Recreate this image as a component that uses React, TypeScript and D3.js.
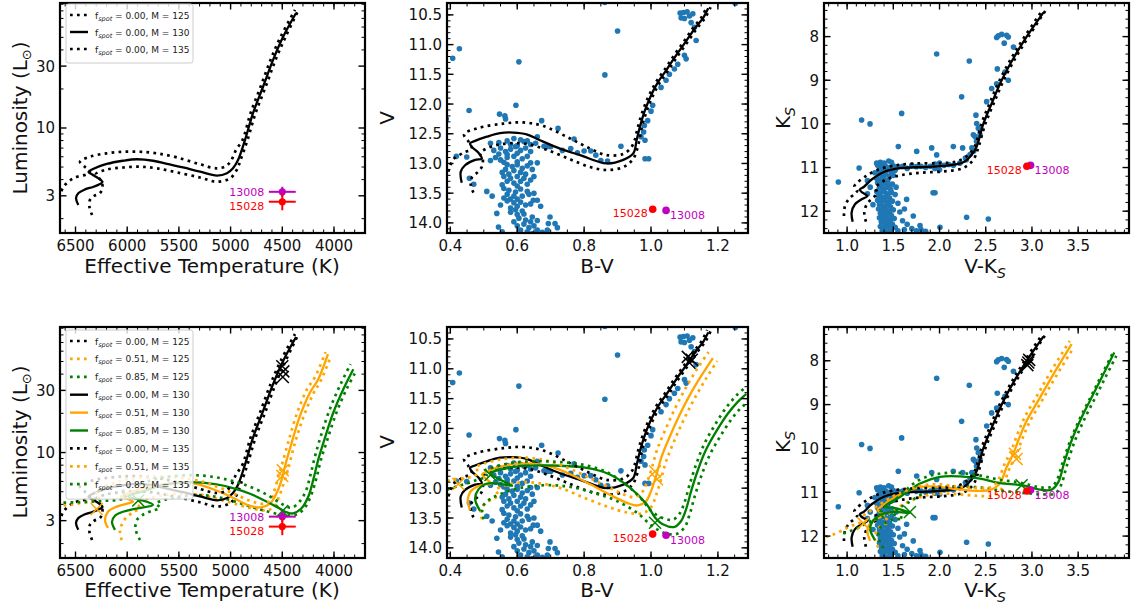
import React from 'react';
import * as d3 from 'd3';

type P = [number, number];

// ================= HR diagram tracks (Teff [K], L [Lsun]) =================
const hr000_125: P[] = [[6340,2.13],[6365,2.46],[6360,2.79],[6321,2.99],[6263,3.15],[6239,3.51],[6249,3.87],[6282,4.19],[6302,4.42],[6198,4.78],[6041,4.96],[5876,5.03],[5715,4.89],[5521,4.55],[5296,4.15],[5134,3.85],[5006,4.09],[4941,4.74],[4904,5.66],[4837,8.07],[4759,13.0],[4662,20.7],[4566,33.4],[4469,50.3],[4348,79.8]];
const hr000_130: P[] = [[6473,2.55],[6495,2.88],[6471,3.15],[6408,3.36],[6331,3.51],[6273,3.67],[6239,3.83],[6282,4.11],[6331,4.34],[6374,4.58],[6331,4.83],[6198,5.28],[6041,5.59],[5908,5.74],[5750,5.59],[5615,5.28],[5460,4.96],[5296,4.60],[5131,4.30],[5035,4.48],[4977,4.89],[4928,5.66],[4861,8.07],[4783,13.0],[4687,20.7],[4590,33.4],[4493,50.3],[4367,77.1]];
const hr000_135: P[] = [[6660,2.90],[6640,3.21],[6611,3.57],[6524,4.09],[6392,4.40],[6360,4.60],[6408,5.00],[6457,5.50],[6360,6.01],[6198,6.38],[6038,6.56],[5876,6.56],[5715,6.38],[5521,5.94],[5296,5.25],[5134,4.89],[5044,5.09],[4996,5.59],[4948,6.76],[4885,8.07],[4807,13.0],[4711,20.7],[4614,33.4],[4517,50.3],[4377,81.3]];
const hr051_125: P[] = [[6053,2.13],[6070,2.46],[6050,2.83],[6002,3.21],[5934,3.51],[5876,3.77],[5905,4.05],[5828,4.34],[5682,4.66],[5489,4.83],[5296,4.74],[5131,4.42],[4977,4.08],[4812,3.75],[4651,3.60],[4580,3.83],[4532,4.58],[4484,5.87],[4445,7.40],[4382,11.5],[4300,18.3],[4203,28.0],[4126,35.9],[4029,54.9]];
const hr051_130: P[] = [[6186,2.64],[6215,3.04],[6186,3.51],[6108,3.83],[6002,4.05],[5944,4.19],[6002,4.42],[6060,4.58],[5973,4.91],[5828,5.37],[5682,5.66],[5537,5.87],[5344,5.77],[5131,5.09],[4977,4.50],[4812,3.90],[4706,3.80],[4619,4.05],[4554,4.89],[4506,6.19],[4474,7.84],[4409,11.9],[4329,19.1],[4232,28.9],[4152,36.6],[4058,57.0]];
const hr051_135: P[] = [[6750,3.85],[6650,3.90],[6553,3.97],[6437,4.11],[6321,4.26],[6263,4.58],[6302,5.00],[6263,5.37],[6118,5.87],[5973,6.30],[5780,6.53],[5538,6.47],[5296,6.03],[5131,5.47],[4977,4.87],[4812,4.26],[4677,4.05],[4609,4.34],[4571,5.27],[4532,6.76],[4498,8.37],[4435,12.6],[4358,20.0],[4261,30.6],[4179,38.6],[4082,59.0]];
const hr085_125: P[] = [[5876,2.13],[5920,2.59],[5905,3.04],[5847,3.33],[5760,3.57],[5682,3.77],[5721,4.05],[5634,4.34],[5441,4.66],[5248,4.70],[5054,4.42],[4861,3.97],[4667,3.57],[4474,3.30],[4368,3.33],[4290,3.70],[4227,4.58],[4174,6.19],[4126,8.83],[4058,13.0],[3976,20.3],[3879,30.6],[3787,42.1]];
const hr085_130: P[] = [[6118,2.55],[6147,2.94],[6118,3.27],[6041,3.51],[5925,3.70],[5751,3.97],[5876,4.34],[5992,4.62],[5828,5.09],[5634,5.66],[5364,5.92],[5151,5.71],[4977,5.34],[4812,4.83],[4648,4.19],[4522,3.70],[4454,3.47],[4396,3.41],[4312,3.75],[4248,4.60],[4200,6.19],[4152,8.83],[4087,13.0],[4007,20.2],[3910,30.6],[3813,43.6]];
const hr085_135: P[] = [[6750,4.05],[6650,4.11],[6505,4.15],[6360,4.19],[6215,4.26],[6089,4.34],[6012,4.50],[6050,4.91],[5992,5.37],[5828,5.92],[5634,6.47],[5364,6.70],[5151,6.47],[4977,6.03],[4812,5.47],[4648,4.74],[4522,4.11],[4454,3.83],[4406,3.77],[4334,4.19],[4271,5.09],[4227,6.76],[4179,9.66],[4116,14.3],[4034,22.2],[3937,33.4],[3840,47.7]];

// ================= V vs B-V tracks =================
const bv000_125: P[] = [[0.469,13.49],[0.461,13.36],[0.465,13.23],[0.481,13.15],[0.494,13.06],[0.497,12.93],[0.489,12.83],[0.504,12.76],[0.539,12.69],[0.578,12.66],[0.628,12.67],[0.688,12.77],[0.758,12.93],[0.818,13.06],[0.867,13.11],[0.917,13.06],[0.947,12.92],[0.963,12.66],[0.973,12.38],[0.987,12.12],[1.004,11.88],[1.026,11.64],[1.053,11.42],[1.081,11.18],[1.110,10.95],[1.138,10.72],[1.163,10.54],[1.178,10.37]];
const bv000_130: P[] = [[0.434,13.325],[0.431,13.14],[0.444,13.03],[0.474,12.94],[0.494,12.92],[0.484,12.82],[0.464,12.72],[0.459,12.66],[0.474,12.62],[0.509,12.55],[0.548,12.49],[0.588,12.48],[0.628,12.51],[0.668,12.61],[0.728,12.75],[0.788,12.86],[0.867,13.0],[0.917,12.94],[0.947,12.83],[0.957,12.61],[0.967,12.38],[0.981,12.12],[0.998,11.88],[1.020,11.64],[1.047,11.42],[1.075,11.18],[1.104,10.95],[1.132,10.72],[1.157,10.54],[1.171,10.39]];
const bv000_135: P[] = [[0.394,13.14],[0.409,12.93],[0.439,12.82],[0.464,12.75],[0.454,12.63],[0.441,12.51],[0.479,12.41],[0.558,12.33],[0.618,12.31],[0.678,12.37],[0.758,12.58],[0.818,12.75],[0.867,12.86],[0.917,12.84],[0.942,12.72],[0.951,12.61],[0.961,12.38],[0.975,12.12],[0.992,11.88],[1.014,11.64],[1.041,11.42],[1.069,11.18],[1.098,10.95],[1.126,10.72],[1.151,10.54],[1.168,10.35]];
const bv051_125: P[] = [[0.495,13.52],[0.49,13.40],[0.50,13.28],[0.52,13.20],[0.545,13.12],[0.535,13.04],[0.55,12.98],[0.58,12.93],[0.62,12.90],[0.67,12.92],[0.73,13.0],[0.80,13.16],[0.87,13.31],[0.93,13.41],[0.975,13.42],[1.0,13.32],[1.015,13.12],[1.03,12.85],[1.045,12.55],[1.07,12.20],[1.10,11.83],[1.13,11.50],[1.165,11.16],[1.198,10.87]];
const bv051_130: P[] = [[0.459,13.37],[0.452,13.20],[0.46,13.06],[0.478,12.98],[0.50,12.94],[0.522,12.92],[0.508,12.85],[0.495,12.77],[0.515,12.71],[0.55,12.64],[0.60,12.59],[0.65,12.59],[0.70,12.64],[0.76,12.77],[0.82,12.94],[0.88,13.12],[0.93,13.25],[0.96,13.29],[0.985,13.22],[1.00,13.05],[1.015,12.80],[1.03,12.50],[1.055,12.15],[1.085,11.78],[1.115,11.45],[1.15,11.12],[1.185,10.82]];
const bv051_135: P[] = [[0.37,12.90],[0.39,12.88],[0.41,12.85],[0.44,12.83],[0.47,12.80],[0.485,12.73],[0.475,12.66],[0.50,12.59],[0.55,12.52],[0.60,12.49],[0.65,12.50],[0.70,12.56],[0.76,12.68],[0.82,12.84],[0.88,13.00],[0.92,13.11],[0.95,13.15],[0.972,13.08],[0.988,12.90],[1.003,12.65],[1.018,12.36],[1.043,12.02],[1.073,11.65],[1.103,11.33],[1.138,11.0],[1.172,10.72]];
const bv085_125: P[] = [[0.50,13.52],[0.495,13.40],[0.50,13.28],[0.52,13.18],[0.55,13.10],[0.59,13.02],[0.64,12.97],[0.70,12.95],[0.76,12.98],[0.83,13.08],[0.90,13.22],[0.96,13.42],[1.0,13.62],[1.04,13.75],[1.075,13.77],[1.10,13.66],[1.115,13.45],[1.13,13.15],[1.15,12.80],[1.175,12.45],[1.205,12.15],[1.24,11.85],[1.27,11.65],[1.30,11.52]];
const bv085_130: P[] = [[0.489,13.38],[0.474,13.18],[0.484,13.02],[0.505,12.93],[0.54,12.92],[0.585,12.96],[0.55,12.86],[0.52,12.75],[0.55,12.69],[0.608,12.63],[0.708,12.62],[0.808,12.66],[0.877,12.77],[0.937,12.99],[0.987,13.27],[1.012,13.49],[1.037,13.61],[1.07,13.65],[1.09,13.55],[1.105,13.35],[1.12,13.05],[1.14,12.70],[1.165,12.35],[1.195,12.05],[1.23,11.75],[1.26,11.55],[1.285,11.42]];
const bv085_135: P[] = [[0.37,13.04],[0.39,13.02],[0.42,12.97],[0.45,12.92],[0.48,12.86],[0.51,12.80],[0.50,12.72],[0.53,12.65],[0.58,12.58],[0.65,12.55],[0.72,12.56],[0.79,12.60],[0.86,12.71],[0.92,12.92],[0.97,13.17],[1.0,13.38],[1.035,13.50],[1.065,13.53],[1.085,13.43],[1.10,13.24],[1.115,12.95],[1.135,12.60],[1.16,12.25],[1.19,11.95],[1.225,11.65],[1.255,11.45],[1.28,11.32]];

// ================= Ks vs V-Ks tracks =================
const vk000_125: P[] = [[1.204,12.24],[1.186,12.03],[1.219,11.82],[1.284,11.69],[1.327,11.58],[1.302,11.46],[1.338,11.39],[1.428,11.27],[1.572,11.18],[1.789,11.12],[2.041,11.09],[2.257,11.01],[2.366,10.82],[2.423,10.52],[2.495,10.00],[2.586,9.53],[2.694,9.00],[2.827,8.47],[2.964,8.00],[3.144,7.41]];
const vk000_130: P[] = [[1.060,12.243],[1.049,12.031],[1.085,11.842],[1.157,11.728],[1.219,11.653],[1.157,11.561],[1.139,11.501],[1.183,11.44],[1.266,11.274],[1.392,11.107],[1.572,11.016],[1.861,10.986],[2.077,10.956],[2.257,10.88],[2.348,10.706],[2.402,10.516],[2.474,10.001],[2.564,9.532],[2.672,9.002],[2.806,8.472],[2.943,8.002],[3.123,7.450]];
const vk000_135: P[] = [[0.966,12.11],[0.977,11.88],[1.024,11.71],[1.089,11.59],[1.111,11.52],[1.078,11.44],[1.103,11.36],[1.194,11.21],[1.320,11.06],[1.500,10.96],[1.716,10.91],[2.005,10.90],[2.185,10.86],[2.293,10.74],[2.380,10.52],[2.452,10.00],[2.542,9.53],[2.650,9.00],[2.784,8.47],[2.921,8.00],[3.108,7.41]];
const vk051_125: P[] = [[1.338,12.26],[1.302,12.09],[1.320,11.88],[1.374,11.75],[1.446,11.68],[1.421,11.58],[1.446,11.50],[1.536,11.37],[1.680,11.20],[1.861,11.07],[2.041,11.03],[2.221,11.05],[2.402,11.08],[2.564,11.08],[2.647,10.99],[2.690,10.84],[2.748,10.50],[2.820,10.20],[2.874,9.90],[2.964,9.44],[3.108,8.91],[3.253,8.38],[3.451,7.70]];
const vk051_130: P[] = [[1.248,12.11],[1.219,11.88],[1.248,11.71],[1.320,11.60],[1.399,11.53],[1.356,11.45],[1.327,11.40],[1.374,11.32],[1.464,11.18],[1.608,11.02],[1.789,10.88],[1.969,10.87],[2.149,10.92],[2.329,10.96],[2.510,10.96],[2.600,10.90],[2.661,10.77],[2.726,10.43],[2.798,10.12],[2.852,9.82],[2.943,9.37],[3.087,8.84],[3.231,8.31],[3.429,7.62]];
const vk051_135: P[] = [[0.70,12.07],[0.761,12.03],[0.887,11.93],[1.013,11.80],[1.121,11.71],[1.204,11.65],[1.176,11.55],[1.230,11.46],[1.338,11.30],[1.482,11.11],[1.644,10.96],[1.825,10.84],[2.005,10.82],[2.185,10.87],[2.366,10.90],[2.528,10.90],[2.600,10.82],[2.647,10.67],[2.705,10.35],[2.777,10.05],[2.831,9.74],[2.921,9.29],[3.065,8.76],[3.209,8.23],[3.408,7.55]];
const vk085_125: P[] = [[1.392,12.28],[1.338,12.02],[1.363,11.79],[1.428,11.68],[1.518,11.62],[1.608,11.60],[1.500,11.49],[1.536,11.40],[1.644,11.26],[1.825,11.03],[2.041,10.88],[2.257,10.87],[2.474,10.90],[2.690,10.97],[2.924,11.02],[3.123,11.05],[3.249,11.03],[3.314,10.84],[3.372,10.43],[3.451,9.90],[3.559,9.37],[3.685,8.84],[3.794,8.38],[3.913,7.89]];
const vk085_130: P[] = [[1.302,12.09],[1.248,11.83],[1.284,11.64],[1.356,11.52],[1.500,11.45],[1.680,11.47],[1.536,11.37],[1.410,11.32],[1.572,11.11],[1.789,10.80],[2.005,10.65],[2.221,10.64],[2.438,10.69],[2.654,10.79],[2.888,10.84],[3.087,10.94],[3.213,10.94],[3.285,10.77],[3.346,10.35],[3.429,9.82],[3.538,9.29],[3.664,8.76],[3.772,8.31],[3.891,7.81]];
const vk085_135: P[] = [[0.959,11.94],[1.103,11.83],[1.212,11.71],[1.302,11.62],[1.385,11.58],[1.356,11.47],[1.399,11.38],[1.536,11.14],[1.771,10.73],[1.987,10.58],[2.203,10.56],[2.420,10.61],[2.636,10.71],[2.870,10.78],[3.069,10.88],[3.188,10.89],[3.256,10.78],[3.322,10.39],[3.408,9.86],[3.516,9.33],[3.642,8.80],[3.750,8.34],[3.869,7.85]];

// ================= cluster photometry =================
const clusterBV: P[] = [
  [0.407,11.23],[0.427,11.07],[0.456,12.11],[0.388,12.25],[0.547,12.17],[0.563,12.20],[0.565,12.25],[0.596,12.02],[0.605,11.29],[0.673,12.28],[0.722,12.41],[0.770,12.59],[0.862,11.51],[0.900,10.77],[0.862,10.29],[1.252,10.31],[1.135,10.93],
  [1.087,10.47],[1.097,10.46],[1.108,10.45],[1.090,10.55],[1.100,10.56],[1.115,10.52],[1.125,10.48],
  [1.12,10.63],[1.13,10.71],[1.10,11.18],[1.105,11.24],[1.08,11.33],[1.07,11.41],[1.055,11.50],[1.045,11.60],[1.03,11.72],[1.005,12.02],[1.0,12.12],[0.99,12.28],[0.98,12.36],[0.978,12.47],[0.97,12.55],[0.982,12.61],[0.982,12.92],[0.993,12.92],[0.91,12.71],
  [0.62,12.63],[0.64,12.68],[0.66,12.55],[0.68,12.71],[0.70,12.72],[0.735,12.78],[0.76,12.75],[0.80,12.79],[0.82,12.79],[0.835,12.86],[0.85,12.95],[0.87,12.96],[0.66,12.99],[0.69,12.72],[0.78,12.82],
  [0.418,12.88],[0.449,12.89],[0.457,13.25],[0.509,13.47],[0.52,12.66],
  [0.545,12.65],[0.57,12.62],[0.59,12.58],[0.61,12.60],[0.63,12.62],[0.655,12.66],[0.60,12.70],[0.58,12.68],
  [0.53,12.78],[0.55,12.74],[0.565,12.80],[0.58,12.76],[0.595,12.72],[0.61,12.78],[0.625,12.74],[0.64,12.80],[0.60,12.83],[0.57,12.85],[0.545,12.84],
  [0.535,12.90],[0.55,12.94],[0.57,12.90],[0.59,12.88],[0.615,12.92],[0.63,12.88],[0.56,12.98],[0.60,12.97],[0.64,12.99],[0.52,12.95],
  [0.57,13.02],[0.585,13.05],[0.60,13.02],[0.615,13.08],[0.63,13.04],[0.565,13.10],[0.59,13.12],[0.61,13.15],[0.625,13.18],[0.575,13.18],[0.645,13.10],[0.555,13.15],
  [0.56,13.22],[0.58,13.25],[0.60,13.22],[0.62,13.25],[0.64,13.28],[0.57,13.30],[0.59,13.33],[0.61,13.30],[0.63,13.35],[0.555,13.36],[0.60,13.38],[0.65,13.22],
  [0.56,13.42],[0.575,13.45],[0.595,13.48],[0.61,13.43],[0.63,13.47],[0.57,13.52],[0.59,13.55],[0.615,13.55],[0.635,13.52],[0.56,13.58],[0.60,13.60],[0.65,13.50],[0.58,13.60],
  [0.57,13.63],[0.59,13.66],[0.61,13.65],[0.625,13.70],[0.60,13.72],[0.58,13.75],[0.64,13.68],[0.66,13.62],[0.595,13.78],[0.615,13.80],
  [0.58,13.82],[0.60,13.86],[0.62,13.85],[0.605,13.92],[0.625,13.95],[0.59,13.98],[0.645,13.90],[0.64,13.98],[0.66,13.96],
  [0.60,14.05],[0.62,14.02],[0.635,14.08],[0.65,14.05],[0.61,14.12],[0.63,14.15],[0.66,14.12],[0.675,14.16],[0.645,14.18],[0.69,14.12],
  [0.539,13.84],[0.544,14.07],[0.648,13.62],[0.698,13.90],[0.713,14.01],[0.693,14.01],[0.72,14.08],[0.67,13.72],[0.525,13.55],[0.47,13.35],[0.55,13.70],[0.555,14.15]
];
const clusterVK: P[] = [
  [0.905,11.33],[1.157,9.91],[1.248,10.0],[1.59,9.76],[1.969,8.40],[2.322,8.56],[2.239,9.38],[1.13,11.01],
  [2.636,7.98],[2.672,7.95],[2.726,7.97],[2.744,8.01],[2.618,8.02],[2.70,8.15],[2.80,8.24],
  [2.625,8.74],[2.708,8.81],[2.744,9.00],[2.618,9.08],[2.564,9.19],[2.51,9.49],[2.394,9.80],[2.402,9.99],[2.42,10.10],[2.366,10.25],[2.384,10.29],[2.438,10.25],[2.40,10.40],[2.37,10.62],[2.33,10.70],[2.28,10.78],[2.35,10.55],
  [1.554,10.52],[1.915,10.55],[2.149,10.52],[2.25,10.55],[1.753,10.63],[1.969,10.71],[1.70,10.95],[1.75,10.98],[1.80,10.97],[1.85,11.0],[1.90,10.97],[1.95,10.92],[2.0,10.90],[2.05,10.95],[2.10,10.93],[2.15,10.95],[2.22,10.90],[2.29,10.82],[1.60,10.97],[1.65,11.02],[1.55,10.98],[1.95,11.02],[2.0,11.05],
  [1.32,10.90],[1.36,10.88],[1.40,10.90],[1.45,10.85],[1.48,10.88],[1.33,10.95],[1.38,10.97],[1.42,10.98],[1.46,11.0],[1.50,10.96],[1.35,11.05],[1.40,11.08],[1.44,11.05],[1.48,11.10],[1.52,11.06],[1.30,11.12],[1.34,11.15],[1.38,11.18],[1.42,11.15],[1.46,11.20],[1.50,11.18],[1.32,11.25],[1.36,11.28],[1.40,11.25],[1.44,11.30],[1.25,11.45],[1.22,11.30],
  [1.33,11.35],[1.37,11.38],[1.41,11.36],[1.45,11.40],[1.49,11.38],[1.35,11.45],[1.39,11.48],[1.43,11.46],[1.47,11.50],[1.53,11.45],
  [1.32,11.55],[1.36,11.58],[1.40,11.55],[1.44,11.60],[1.48,11.57],[1.34,11.65],[1.38,11.68],[1.42,11.66],[1.46,11.70],[1.52,11.62],
  [1.33,11.75],[1.37,11.78],[1.41,11.76],[1.45,11.80],[1.49,11.77],[1.35,11.85],[1.39,11.88],[1.43,11.86],[1.47,11.90],[1.55,11.82],
  [1.34,11.95],[1.38,11.98],[1.42,11.96],[1.46,12.00],[1.50,11.97],[1.36,12.05],[1.40,12.08],[1.44,12.06],[1.48,12.10],[1.57,12.02],
  [1.35,12.15],[1.39,12.18],[1.43,12.16],[1.47,12.20],[1.51,12.17],[1.37,12.25],[1.41,12.28],[1.45,12.26],[1.49,12.30],[1.60,12.22],
  [1.36,12.35],[1.40,12.38],[1.44,12.36],[1.48,12.40],[1.52,12.37],[1.38,12.45],[1.42,12.48],[1.46,12.46],[1.55,12.45],[1.62,12.42],
  [1.644,11.73],[1.716,12.11],[1.789,12.33],[1.70,12.40],[1.75,12.45],[1.80,12.42],[1.85,12.46],[1.65,12.30],[1.62,11.95],[1.951,11.58],[1.93,11.58],[2.293,12.14],[2.528,12.18],[2.005,12.37],[1.28,11.85],[1.22,11.60]
];

// ================= the two stars =================
const starNames = ['13008', '15028'];
const starColors = ['#bf00bf', '#ff0000'];
const starTeff = [4500, 4500];
const starTeffErr = [130, 130];
const starL = [3.22, 2.70];
const starLlo = [2.95, 2.32];
const starLhi = [3.52, 3.12];
const starBV = [1.045, 1.005];
const starV = [13.79, 13.77];
const starVK = [2.985, 2.945];
const starK = [10.95, 10.97];

// ================= "x" markers (model points near the stars) =================
const hrCross = { black: [[4495,38],[4490,42],[4500,46]] as P[], orange: [[4500,6.6],[4495,7.3],[6295,3.68]] as P[], green: [[4500,3.55],[5893,4.29]] as P[] };
const bvCross = { black: [[1.11,10.80],[1.115,10.90],[1.122,10.85]] as P[], orange: [[1.012,12.72],[1.018,12.85],[0.424,12.93]] as P[], green: [[1.012,13.58],[0.52,12.78]] as P[] };
const vkCross = { black: [[2.96,8.04],[2.95,8.10],[2.97,7.98]] as P[], orange: [[2.816,10.12],[2.834,10.24],[1.176,11.71]] as P[], green: [[2.888,10.84],[1.68,11.45]] as P[] };

// ================= ticks =================
const tMajor = [6500, 6000, 5500, 5000, 4500, 4000];
const lMajor = [3, 10, 30];
const lMinor = [2, 4, 5, 6, 7, 8, 9, 20, 40, 50, 60, 70, 80, 90];
const bvMajor = [0.4, 0.6, 0.8, 1.0, 1.2];
const vMajor = [10.5, 11.0, 11.5, 12.0, 12.5, 13.0, 13.5, 14.0];
const vkMajor = [1.0, 1.5, 2.0, 2.5, 3.0, 3.5];
const kMajor = [8, 9, 10, 11, 12];

const fspotLevels = ['0.00', '0.51', '0.85'];
const masses = ['125', '130', '135'];

const C_BLACK = '#000000', C_ORANGE = '#ffa500', C_GREEN = '#008000', C_BLUE = '#1f77b4';
const FONT = "'DejaVu Sans', 'Liberation Sans', sans-serif";
const COLORS = [C_BLACK, C_ORANGE, C_GREEN];

const COLX: Record<string, [number, number]> = { hr: [60, 365], bv: [447, 748], vk: [824, 1129] };
const ROWY: [number, number][] = [[3, 233], [327, 558]];

function rangeStep(a: number, b: number, s: number) {
  const out: number[] = [];
  const n = Math.round((b - a) / s);
  for (let i = 0; i <= n; i++) out.push(+(a + i * s).toFixed(4));
  return out;
}

function Axes(props: any) {
  const { x0, x1, y0, y1, xs, ys, xMaj, xMin, yMaj, yMin, xFmt, yFmt } = props;
  const ML = 6.5, mL = 3.5;
  const els: any[] = [];
  xMin.forEach((v: number, i: number) => {
    const x = xs(v);
    if (x < x0 + 0.5 || x > x1 - 0.5) return;
    els.push(<line key={'xn' + i} x1={x} x2={x} y1={y1} y2={y1 - mL} strokeWidth={1} />);
    els.push(<line key={'xnt' + i} x1={x} x2={x} y1={y0} y2={y0 + mL} strokeWidth={1} />);
  });
  yMin.forEach((v: number, i: number) => {
    const y = ys(v);
    if (y < y0 + 0.5 || y > y1 - 0.5) return;
    els.push(<line key={'yn' + i} x1={x0} x2={x0 + mL} y1={y} y2={y} strokeWidth={1} />);
    els.push(<line key={'ynr' + i} x1={x1} x2={x1 - mL} y1={y} y2={y} strokeWidth={1} />);
  });
  xMaj.forEach((v: number, i: number) => {
    const x = xs(v);
    els.push(<line key={'xj' + i} x1={x} x2={x} y1={y1} y2={y1 - ML} strokeWidth={1.4} />);
    els.push(<line key={'xjt' + i} x1={x} x2={x} y1={y0} y2={y0 + ML} strokeWidth={1.4} />);
  });
  yMaj.forEach((v: number, i: number) => {
    const y = ys(v);
    els.push(<line key={'yj' + i} x1={x0} x2={x0 + ML} y1={y} y2={y} strokeWidth={1.4} />);
    els.push(<line key={'yjr' + i} x1={x1} x2={x1 - ML} y1={y} y2={y} strokeWidth={1.4} />);
  });
  return (
    <g>
      <g stroke="#000">{els}</g>
      <rect x={x0} y={y0} width={x1 - x0} height={y1 - y0} fill="none" stroke="#000" strokeWidth={2.2} />
      <g fontFamily={FONT} fontSize={15} fill="#111">
        {xMaj.map((v: number, i: number) => (
          <text key={'xl' + i} x={xs(v)} y={y1 + 18} textAnchor="middle">{xFmt(v)}</text>
        ))}
        {yMaj.map((v: number, i: number) => (
          <text key={'yl' + i} x={x0 - 5} y={ys(v) + 5.5} textAnchor="end">{yFmt(v)}</text>
        ))}
      </g>
    </g>
  );
}

function Cross({ x, y, c }: any) {
  return <path d={`M${x - 6},${y - 6}L${x + 6},${y + 6}M${x - 6},${y + 6}L${x + 6},${y - 6}`} stroke={c} strokeWidth={1.5} fill="none" />;
}

function Legend({ x, y, entries }: any) {
  const rowH = entries.length > 3 ? 17.9 : 17;
  const h = entries.length * rowH + 8;
  return (
    <g>
      <rect x={x} y={y} width={127} height={h} rx={2.5} fill="#fff" fillOpacity={0.8} stroke="#cccccc" strokeWidth={1} />
      {entries.map((e: any, i: number) => {
        const cy = y + 11 + i * rowH;
        return (
          <g key={i}>
            <line x1={x + 4} x2={x + 22} y1={cy} y2={cy} stroke={e.c} strokeWidth={e.dotted ? 2.7 : 2.4}
              strokeDasharray={e.dotted ? '2.7 4.3' : undefined} />
            <text x={x + 29} y={cy + 3.5} fontFamily={FONT} fontSize={9} fill="#222">
              f<tspan fontSize={6.5} fontStyle="italic" dy={2}>spot</tspan>
              <tspan dy={-2}>{` = ${e.f}, M = ${e.m}`}</tspan>
            </text>
          </g>
        );
      })}
    </g>
  );
}

type Track = { d: P[]; c: string; dotted: boolean };

function trackSet(sets: P[][][], nLevels: number): Track[] {
  const out: Track[] = [];
  for (let m = 0; m < 3; m++) {
    for (let l = 0; l < nLevels; l++) {
      out.push({ d: sets[l][m], c: COLORS[l], dotted: m !== 1 });
    }
  }
  return out;
}

const hrSets: P[][][] = [[hr000_125, hr000_130, hr000_135], [hr051_125, hr051_130, hr051_135], [hr085_125, hr085_130, hr085_135]];
const bvSets: P[][][] = [[bv000_125, bv000_130, bv000_135], [bv051_125, bv051_130, bv051_135], [bv085_125, bv085_130, bv085_135]];
const vkSets: P[][][] = [[vk000_125, vk000_130, vk000_135], [vk051_125, vk051_130, vk051_135], [vk085_125, vk085_130, vk085_135]];

function Panel(props: any) {
  const { id, kind, row } = props;
  const [x0, x1] = COLX[kind];
  const [y0, y1] = ROWY[row];
  const nLevels = row === 0 ? 1 : 3;
  let xs: any, ys: any, xMaj: number[], xMin: number[], yMaj: number[], yMin: number[], xFmt: any, yFmt: any;
  let sets: P[][][], scatter: P[] | null = null, crosses: any;
  if (kind === 'hr') {
    xs = d3.scaleLinear().domain([6650, 3700]).range([x0, x1]);
    ys = d3.scaleLog().domain([1.55, 92]).range([y1, y0]);
    xMaj = tMajor; xMin = rangeStep(3700, 6600, 100); yMaj = lMajor; yMin = lMinor;
    xFmt = (v: number) => String(v); yFmt = (v: number) => String(v);
    sets = hrSets; crosses = hrCross;
  } else if (kind === 'bv') {
    xs = d3.scaleLinear().domain([0.39, 1.29]).range([x0, x1]);
    ys = d3.scaleLinear().domain([10.3, 14.17]).range([y0, y1]);
    xMaj = bvMajor; xMin = rangeStep(0.4, 1.25, 0.05); yMaj = vMajor; yMin = rangeStep(10.3, 14.1, 0.1);
    xFmt = (v: number) => v.toFixed(1); yFmt = (v: number) => v.toFixed(1);
    sets = bvSets; scatter = clusterBV; crosses = bvCross;
  } else {
    xs = d3.scaleLinear().domain([0.75, 4.05]).range([x0, x1]);
    ys = d3.scaleLinear().domain([7.23, 12.5]).range([y0, y1]);
    xMaj = vkMajor; xMin = rangeStep(0.8, 4.0, 0.1); yMaj = kMajor; yMin = rangeStep(7.4, 12.4, 0.2);
    xFmt = (v: number) => v.toFixed(1); yFmt = (v: number) => String(v);
    sets = vkSets; scatter = clusterVK; crosses = vkCross;
  }
  const line = d3.line<P>().x(d => xs(d[0])).y(d => ys(d[1])).curve(d3.curveCatmullRom.alpha(0.5));
  const tracks = trackSet(sets, nLevels);
  const clipId = 'clip-' + id;

  const starEls: any[] = [];
  [0, 1].forEach(i => {
    const c = starColors[i];
    if (kind === 'hr') {
      const cx = xs(starTeff[i]), cy = ys(starL[i]);
      starEls.push(
        <g key={'s' + i}>
          <line x1={xs(starTeff[i] + starTeffErr[i])} x2={xs(starTeff[i] - starTeffErr[i])} y1={cy} y2={cy} stroke={c} strokeWidth={2} />
          <line x1={cx} x2={cx} y1={ys(starLlo[i])} y2={ys(starLhi[i])} stroke={c} strokeWidth={2} />
          <circle cx={cx} cy={cy} r={3.6} fill={c} />
          <text x={cx - 18} y={cy + (i === 0 ? 4 : 8)} textAnchor="end" fontFamily={FONT} fontSize={11} fill={c}>{starNames[i]}</text>
        </g>
      );
    } else {
      const sx = kind === 'bv' ? starBV[i] : starVK[i];
      const sy = kind === 'bv' ? starV[i] : starK[i];
      const cx = xs(sx), cy = ys(sy);
      const isMag = i === 0;
      starEls.push(
        <g key={'s' + i}>
          <circle cx={cx} cy={cy} r={3.8} fill={c} />
          <text x={isMag ? cx + 4 : cx - 5} y={cy + (isMag ? 9 : 8)} textAnchor={isMag ? 'start' : 'end'}
            fontFamily={FONT} fontSize={11} fill={c}>{starNames[i]}</text>
        </g>
      );
    }
  });

  const crossEls: any[] = [];
  if (row === 1) {
    (['black', 'orange', 'green'] as const).forEach((k, li) => {
      crosses[k].forEach((p: P, j: number) => {
        crossEls.push(<Cross key={k + j} x={xs(p[0])} y={ys(p[1])} c={COLORS[li]} />);
      });
    });
  }

  return (
    <g>
      <defs>
        <clipPath id={clipId}><rect x={x0} y={y0} width={x1 - x0} height={y1 - y0} /></clipPath>
      </defs>
      <g clipPath={`url(#${clipId})`}>
        {scatter && scatter.map((p, i) => <circle key={i} cx={xs(p[0])} cy={ys(p[1])} r={2.8} fill={C_BLUE} />)}
        {tracks.map((t, i) => (
          <path key={i} d={line(t.d) || ''} fill="none" stroke={t.c} strokeWidth={t.dotted ? 2.7 : 2.3}
            strokeDasharray={t.dotted ? '2.7 4.3' : undefined} />
        ))}
        {crossEls}
        {starEls}
      </g>
      <Axes x0={x0} x1={x1} y0={y0} y1={y1} xs={xs} ys={ys} xMaj={xMaj} xMin={xMin} yMaj={yMaj} yMin={yMin} xFmt={xFmt} yFmt={yFmt} />
    </g>
  );
}

export default function App() {
  const legendTop = masses.map((m, mi) => ({ c: C_BLACK, dotted: mi !== 1, f: fspotLevels[0], m }));
  const legendBottom: any[] = [];
  masses.forEach((m, mi) => fspotLevels.forEach((f, li) => legendBottom.push({ c: COLORS[li], dotted: mi !== 1, f, m })));
  const yLab = [118, 442];
  const xLabY = [273, 597];
  return (
    <svg width={1133} height={607} viewBox="0 0 1133 607" style={{ position: 'absolute', left: 0, top: 0, background: '#fff' }}>
      <rect x={0} y={0} width={1133} height={607} fill="#fff" />
      {[0, 1].map(row => (
        <g key={row}>
          <Panel id={'hr' + row} kind="hr" row={row} />
          <Panel id={'bv' + row} kind="bv" row={row} />
          <Panel id={'vk' + row} kind="vk" row={row} />
          <g fontFamily={FONT} fontSize={20} fill="#111">
            <text transform={`translate(27,${yLab[row]}) rotate(-90)`} textAnchor="middle">
              Luminosity (L<tspan fontSize={13} dy={4}>⊙</tspan><tspan dy={-4}>)</tspan>
            </text>
            <text x={212} y={xLabY[row]} textAnchor="middle">Effective Temperature (K)</text>
            <text transform={`translate(394,${yLab[row]}) rotate(-90)`} textAnchor="middle">V</text>
            <text x={597} y={xLabY[row]} textAnchor="middle">B-V</text>
            <text transform={`translate(790,${yLab[row]}) rotate(-90)`} textAnchor="middle">
              K<tspan fontSize={14} fontStyle="italic" dy={5}>S</tspan>
            </text>
            <text x={985} y={xLabY[row]} textAnchor="middle">
              V-K<tspan fontSize={14} fontStyle="italic" dy={5}>S</tspan>
            </text>
          </g>
        </g>
      ))}
      <Legend x={66} y={4} entries={legendTop} />
      <Legend x={66} y={330} entries={legendBottom} />
    </svg>
  );
}
